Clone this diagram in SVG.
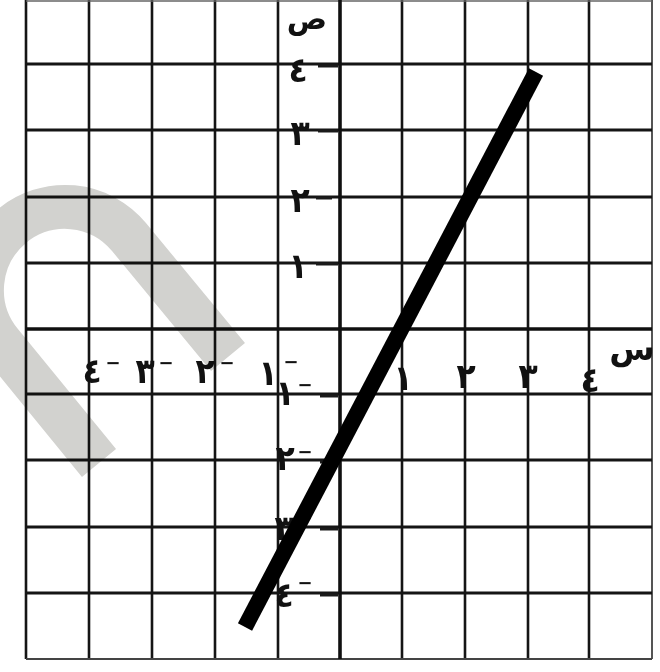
<svg xmlns="http://www.w3.org/2000/svg" width="660" height="672" viewBox="0 0 660 672">
<style>
.v{stroke:#151515;stroke-width:2.6}
.h{stroke:#151515;stroke-width:3.2}
.ax{stroke:#101010;stroke-width:3.6}
.tk{stroke:#1a1a1a;stroke-width:3}
.d{font-family:"DejaVu Sans Condensed","DejaVu Sans",sans-serif;font-weight:bold;font-size:35px;fill:#111;text-anchor:middle}
.m{font-family:"DejaVu Sans",sans-serif;font-weight:bold;font-size:18px;fill:#111;text-anchor:middle}
.l{font-family:"DejaVu Sans",sans-serif;font-weight:bold;font-size:33px;fill:#111;text-anchor:middle}
</style>
<rect width="660" height="672" fill="#fff"/>
<g id="grid">
<line class="v" x1="26" y1="0" x2="26" y2="659"/>
<line class="v" x1="89" y1="0" x2="89" y2="659"/>
<line class="v" x1="152" y1="0" x2="152" y2="659"/>
<line class="v" x1="215" y1="0" x2="215" y2="659"/>
<line class="v" x1="278" y1="0" x2="278" y2="659"/>
<line class="v" x1="402" y1="0" x2="402" y2="659"/>
<line class="v" x1="465" y1="0" x2="465" y2="659"/>
<line class="v" x1="528" y1="0" x2="528" y2="659"/>
<line class="v" x1="589" y1="0" x2="589" y2="659"/>
<line class="v" x1="652" y1="0" x2="652" y2="659" style="stroke:#555;stroke-width:2"/>
<line class="h" x1="26" y1="1" x2="652" y2="1" style="stroke:#666;stroke-width:1.5"/>
<line class="h" x1="26" y1="64" x2="652" y2="64"/>
<line class="h" x1="26" y1="130" x2="652" y2="130"/>
<line class="h" x1="26" y1="197" x2="652" y2="197"/>
<line class="h" x1="26" y1="263" x2="652" y2="263"/>
<line class="h" x1="26" y1="394" x2="652" y2="394"/>
<line class="h" x1="26" y1="460" x2="652" y2="460"/>
<line class="h" x1="26" y1="527" x2="652" y2="527"/>
<line class="h" x1="26" y1="593" x2="652" y2="593"/>
<line class="h" x1="26" y1="659" x2="652" y2="659" style="stroke:#444;stroke-width:2.2"/>
</g>
<g id="axes">
<line class="ax" x1="340" y1="0" x2="340" y2="659"/>
<line class="ax" x1="26" y1="329" x2="652" y2="329"/>
<line class="tk" x1="318" y1="66" x2="338" y2="66"/>
<line class="tk" x1="318" y1="131" x2="338" y2="131"/>
<line class="tk" x1="316" y1="198" x2="332" y2="198"/>
<line class="tk" x1="316" y1="264" x2="338" y2="264"/>
<line class="tk" x1="320" y1="396" x2="338" y2="396"/>
<line class="tk" x1="320" y1="462" x2="338" y2="462"/>
<line class="tk" x1="320" y1="529" x2="338" y2="529"/>
<line class="tk" x1="320" y1="595" x2="338" y2="595"/>
</g>
<g id="labels">
<text class="l" x="307" y="29" style="font-size:30px">ص</text>
<text class="l" x="632" y="360">س</text>
<text class="d" x="298" y="82">٤</text>
<text class="d" x="300" y="145">٣</text>
<text class="d" x="300" y="212">٢</text>
<text class="d" x="298" y="278">١</text>
<text class="d" x="285" y="405">١</text><text class="m" x="305" y="391">−</text>
<text class="d" x="285" y="470">٢</text><text class="m" x="305" y="458">−</text>
<text class="d" x="284" y="540">٣</text><text class="m" x="305" y="524">−</text>
<text class="d" x="284" y="607">٤</text><text class="m" x="305" y="589">−</text>
<text class="d" x="92" y="383">٤</text><text class="m" x="113" y="369">−</text>
<text class="d" x="145" y="383">٣</text><text class="m" x="166" y="369">−</text>
<text class="d" x="205" y="383">٢</text><text class="m" x="227" y="369">−</text>
<text class="d" x="268" y="385">١</text><text class="m" x="291" y="368">−</text>
<text class="d" x="403" y="390">١</text>
<text class="d" x="466" y="388">٢</text>
<text class="d" x="528" y="388">٣</text>
<text class="d" x="590" y="392">٤</text>
</g>
<g id="graph-line">
<line x1="536" y1="72" x2="245" y2="627" stroke="#000" stroke-width="16"/>
</g>
<g id="watermark" style="mix-blend-mode:multiply">
<path d="M228 357 L129 237 A83 83 0 0 0 1 343 L99 463" fill="none" stroke="#d2d2cf" stroke-width="44"/>
</g>
</svg>
